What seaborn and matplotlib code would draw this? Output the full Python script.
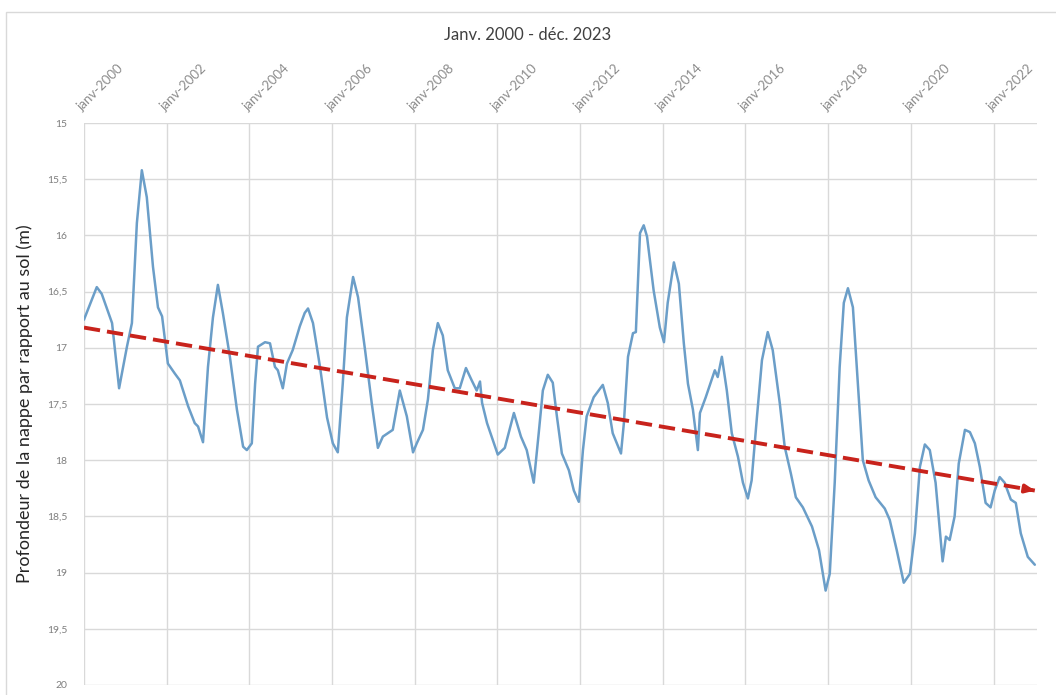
import matplotlib
matplotlib.use("Agg")
import matplotlib.pyplot as plt
from matplotlib.patches import Rectangle
import seaborn as sns
import pandas as pd

# valeurs (annee decimale, profondeur en m)
annee = [
    2000.00, 2000.31, 2000.43, 2000.68, 2000.85, 2001.04, 2001.16, 2001.28, 2001.40, 2001.52,
    2001.67, 2001.79, 2001.89, 2002.03, 2002.20, 2002.32, 2002.52, 2002.68, 2002.76, 2002.88,
    2003.00, 2003.12, 2003.24, 2003.36, 2003.53, 2003.70, 2003.85, 2003.94, 2004.06, 2004.14,
    2004.21, 2004.38, 2004.50, 2004.62, 2004.69, 2004.81, 2004.91, 2005.05, 2005.22, 2005.34,
    2005.42, 2005.54, 2005.71, 2005.88, 2006.02, 2006.14, 2006.26, 2006.36, 2006.51, 2006.63,
    2006.80, 2006.96, 2007.11, 2007.23, 2007.35, 2007.47, 2007.64, 2007.81, 2007.96, 2008.05,
    2008.20, 2008.32, 2008.44, 2008.56, 2008.68, 2008.80, 2008.97, 2009.09, 2009.24, 2009.38,
    2009.50, 2009.58, 2009.63, 2009.75, 2010.01, 2010.18, 2010.40, 2010.57, 2010.71, 2010.88,
    2011.00, 2011.10, 2011.22, 2011.34, 2011.44, 2011.56, 2011.73, 2011.85, 2011.97, 2012.07,
    2012.16, 2012.33, 2012.55, 2012.67, 2012.79, 2012.99, 2013.06, 2013.16, 2013.28, 2013.35,
    2013.45, 2013.54, 2013.62, 2013.78, 2013.93, 2014.03, 2014.12, 2014.27, 2014.39, 2014.51,
    2014.61, 2014.73, 2014.85, 2014.90, 2015.04, 2015.26, 2015.33, 2015.43, 2015.55, 2015.67,
    2015.82, 2015.94, 2016.06, 2016.15, 2016.28, 2016.40, 2016.54, 2016.66, 2016.83, 2016.95,
    2017.10, 2017.22, 2017.39, 2017.61, 2017.78, 2017.94, 2018.04, 2018.16, 2018.28, 2018.38,
    2018.48, 2018.60, 2018.72, 2018.84, 2018.98, 2019.15, 2019.37, 2019.49, 2019.66, 2019.83,
    2019.98, 2020.10, 2020.22, 2020.34, 2020.46, 2020.60, 2020.77, 2020.85, 2020.94, 2021.06,
    2021.16, 2021.31, 2021.43, 2021.55, 2021.67, 2021.81, 2021.93, 2022.03, 2022.15, 2022.27,
    2022.42, 2022.54, 2022.66, 2022.83, 2023.00,
]
profondeur = [
    16.75, 16.46, 16.52, 16.78, 17.36, 16.99, 16.78, 15.89, 15.42, 15.66,
    16.28, 16.64, 16.72, 17.14, 17.23, 17.29, 17.52, 17.67, 17.70, 17.84,
    17.17, 16.73, 16.44, 16.69, 17.08, 17.55, 17.88, 17.91, 17.85, 17.32,
    16.99, 16.95, 16.96, 17.17, 17.20, 17.36, 17.14, 17.02, 16.81, 16.69,
    16.65, 16.78, 17.17, 17.62, 17.85, 17.93, 17.32, 16.73, 16.37, 16.55,
    17.02, 17.49, 17.89, 17.79, 17.76, 17.73, 17.38, 17.61, 17.93, 17.85,
    17.73, 17.46, 17.02, 16.78, 16.89, 17.20, 17.36, 17.36, 17.18, 17.29,
    17.38, 17.30, 17.49, 17.67, 17.95, 17.89, 17.58, 17.79, 17.91, 18.20,
    17.76, 17.38, 17.24, 17.31, 17.61, 17.94, 18.09, 18.27, 18.37, 17.91,
    17.61, 17.44, 17.33, 17.49, 17.76, 17.94, 17.67, 17.08, 16.87, 16.86,
    15.98, 15.91, 16.01, 16.49, 16.82, 16.95, 16.60, 16.24, 16.43, 16.96,
    17.32, 17.55, 17.91, 17.58, 17.44, 17.20, 17.26, 17.08, 17.38, 17.76,
    17.97, 18.20, 18.34, 18.18, 17.61, 17.11, 16.86, 17.02, 17.49, 17.88,
    18.12, 18.33, 18.42, 18.59, 18.80, 19.16, 19.01, 18.20, 17.17, 16.60,
    16.47, 16.64, 17.32, 18.00, 18.18, 18.33, 18.43, 18.53, 18.80, 19.09,
    19.01, 18.65, 18.06, 17.86, 17.91, 18.20, 18.90, 18.68, 18.71, 18.50,
    18.03, 17.73, 17.75, 17.85, 18.06, 18.38, 18.42, 18.27, 18.15, 18.20,
    18.35, 18.38, 18.65, 18.86, 18.93,
]

# tendance (debut / fin)
tendance_annee = [2000.0, 2023.0]
tendance_prof = [16.82, 18.27]

y_ticks = [15, 15.5, 16, 16.5, 17, 17.5, 18, 18.5, 19, 19.5, 20]
x_tick_years = list(range(2000, 2023, 2))


def to_date(years):
    base = pd.Timestamp("2000-01-01")
    return [base + pd.Timedelta(days=(y - 2000) * 365.25) for y in years]


df = pd.DataFrame({"date": to_date(annee), "profondeur": profondeur})
df_t = pd.DataFrame({"date": to_date(tendance_annee), "profondeur": tendance_prof})

sns.set_theme(style="white")
plt.rcParams["font.family"] = ["Lato", "DejaVu Sans"]

fig = plt.figure(figsize=(10.56, 6.95), dpi=100)
fig.patches.append(Rectangle((0.006, -0.01), 1.0, 0.993, transform=fig.transFigure,
                             fill=False, edgecolor="#d9d9d9", linewidth=1))
ax = fig.add_axes([0.0795, 0.0144, 0.9025, 0.8086])

sns.lineplot(data=df, x="date", y="profondeur", ax=ax, color="#6b9ec8", linewidth=1.8)
sns.lineplot(data=df_t, x="date", y="profondeur", ax=ax, color="#c8231c",
             linewidth=2.8, linestyle=(0, (4.2, 1.8)))
# pointe de fleche
d_end = df_t["date"].iloc[-1]
ax.annotate("", xy=(d_end, tendance_prof[-1]),
            xytext=(d_end - pd.Timedelta(days=40), tendance_prof[-1] - 0.007),
            arrowprops=dict(arrowstyle="-|>,head_length=0.45,head_width=0.2",
                            color="#c8231c", lw=2.5, shrinkA=0, shrinkB=0))

ax.set_ylim(20, 15)
ax.set_yticks(y_ticks)
ax.set_yticklabels([f"{v:g}".replace(".", ",") for v in y_ticks])
ax.set_xlim(pd.Timestamp("2000-01-01"), pd.Timestamp("2023-01-20"))
ax.set_xticks([pd.Timestamp(f"{y}-01-01") for y in x_tick_years])
ax.set_xticklabels([f"janv-{y}" for y in x_tick_years])
ax.xaxis.tick_top()
ax.tick_params(axis="x", labelsize=9.5, colors="#8c8c8c", length=0, pad=7)
ax.tick_params(axis="y", labelsize=7.5, colors="#7f7f7f", length=0, pad=12)
for tick in ax.xaxis.get_major_ticks():
    lab = tick.label2
    lab.set_rotation(45)
    lab.set_rotation_mode("anchor")
    lab.set_ha("left")
    lab.set_va("bottom")

ax.grid(True, color="#d9d9d9", linewidth=1)
for s in ax.spines.values():
    s.set_visible(False)

ax.set_xlabel("")
ax.set_ylabel("Profondeur de la nappe par rapport au sol (m)", fontsize=13,
              color="#262626", labelpad=10)
fig.text(0.5, 0.95, "Janv. 2000 - déc. 2023", ha="center", va="center",
         fontsize=12, color="#404040")

fig.savefig("out.png", dpi=100)
